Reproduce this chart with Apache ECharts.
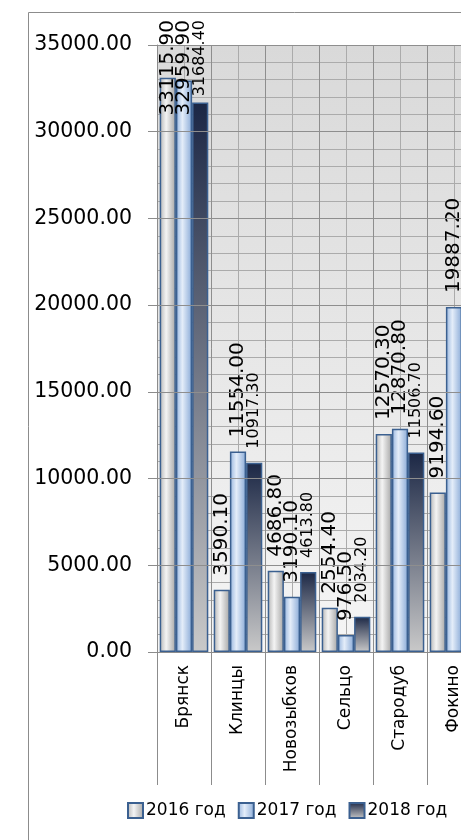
<!DOCTYPE html>
<html>
<head>
<meta charset="utf-8">
<script src="https://cdn.jsdelivr.net/npm/echarts@6/dist/echarts.min.js"></script>
<style>
  html, body { margin: 0; padding: 0; background: #fff; overflow: hidden; }
  #chart { width: 560px; height: 840px; }
</style>
</head>
<body>
<div id="chart"></div>
<script>
// данные
const categories = ['Брянск', 'Клинцы', 'Новозыбков', 'Сельцо', 'Стародуб', 'Фокино']
const seriesNames = ['2016 год', '2017 год', '2018 год']
const y2016 = [33115.90, 3590.10, 4686.80, 2554.40, 12570.30, 9194.60]
const y2017 = [32959.90, 11554.00, 3190.10, 976.50, 12870.80, 19887.20]
const y2018 = [31684.40, 10917.30, 4613.80, 2034.20, 11506.70, 15051.00]
const yMin = 0, yMax = 35000, yStep = 5000, yMinorStep = 1000

const chart = echarts.init(document.getElementById('chart'))
const font = 'DejaVu Sans'
const border = '#3b6090'
const majorColor = '#8e8e8e'
const minorColor = '#ababab'

// заливки столбцов
const fill2016 = new echarts.graphic.LinearGradient(0, 0, 1, 0, [
  { offset: 0, color: '#b4b4b4' }, { offset: 0.4, color: '#f4f4f4' }, { offset: 1, color: '#a4a4a4' }
])
const fill2017 = new echarts.graphic.LinearGradient(0, 0, 1, 0, [
  { offset: 0, color: '#95b4de' }, { offset: 0.4, color: '#e4edf9' }, { offset: 1, color: '#88a9d6' }
])
const fill2018 = new echarts.graphic.LinearGradient(0, 0, 0, 1, [
  { offset: 0, color: '#1b2745' }, { offset: 1, color: '#c9c9c9' }
])

function makeLabel(size) {
  return {
    show: true,
    position: 'top',
    distance: 14,
    rotate: 90,
    align: 'left',
    verticalAlign: 'middle',
    fontFamily: font,
    fontSize: size,
    color: '#000',
    formatter: p => p.value.toFixed(2)
  }
}

// подпись не должна выходить за верх рамки
function keepInside(params) {
  const r = params.labelRect
  if (r.y < 20) return { y: 20 + r.height }
  return {}
}

function makeSeries(name, data, fill, size) {
  return {
    name: name,
    type: 'bar',
    data: data,
    barGap: '0%',
    barCategoryGap: '10%',
    itemStyle: { color: fill, borderColor: border, borderWidth: 1.5 },
    label: makeLabel(size),
    labelLayout: keepInside
  }
}

chart.setOption({
  animation: false,
  textStyle: { fontFamily: font },
  graphic: [{
    type: 'rect',
    shape: { x: 28.5, y: 12.5, width: 800, height: 1000 },
    style: { fill: 'none', stroke: '#8c8c8c', lineWidth: 1 },
    silent: true
  }],
  grid: {
    left: 157, top: 45, width: 324, height: 607,
    show: true,
    borderWidth: 0,
    backgroundColor: new echarts.graphic.LinearGradient(0, 0, 0, 1, [
      { offset: 0, color: '#d9d9d9' }, { offset: 1, color: '#f5f5f5' }
    ])
  },
  legend: {
    left: 127, top: 802, padding: 0,
    itemWidth: 15, itemHeight: 15, itemGap: 12,
    icon: 'rect',
    textStyle: { fontFamily: font, fontSize: 17, color: '#000', padding: [0, 0, 0, -2] },
    data: seriesNames
  },
  xAxis: [{
    type: 'category',
    data: categories,
    axisLine: { lineStyle: { color: '#8c8c8c', width: 1 } },
    axisTick: { show: true, interval: 0, length: 133, lineStyle: { color: '#8c8c8c' } },
    axisLabel: { interval: 0, rotate: 90, margin: 13, fontFamily: font, fontSize: 17, color: '#000' },
    splitLine: { show: true, interval: 0, lineStyle: { color: majorColor } },
    z: 3
  }, {
    // промежуточные вертикальные линии сетки
    type: 'value',
    min: 0, max: categories.length, interval: 0.5,
    show: true,
    axisLine: { show: false }, axisTick: { show: false }, axisLabel: { show: false },
    splitLine: { show: true, lineStyle: { color: minorColor } },
    z: 2
  }],
  yAxis: [{
    type: 'value',
    min: yMin, max: yMax, interval: yStep,
    axisLine: { show: true, lineStyle: { color: '#8c8c8c' } },
    axisTick: { show: true, length: 9, lineStyle: { color: '#8c8c8c' } },
    axisLabel: { margin: 25, fontFamily: font, fontSize: 20.5, color: '#000', formatter: v => v.toFixed(2) },
    splitLine: { show: true, lineStyle: { color: majorColor } },
    z: 3
  }, {
    // промежуточные горизонтальные линии сетки
    type: 'value',
    min: yMin, max: yMax, interval: yMinorStep,
    position: 'left',
    axisLine: { show: false }, axisTick: { show: false }, axisLabel: { show: false },
    splitLine: { show: true, lineStyle: { color: minorColor } },
    z: 2
  }],
  series: [
    makeSeries(seriesNames[0], y2016, fill2016, 20),
    makeSeries(seriesNames[1], y2017, fill2017, 20),
    makeSeries(seriesNames[2], y2018, fill2018, 16)
  ]
})
</script>
</body>
</html>
